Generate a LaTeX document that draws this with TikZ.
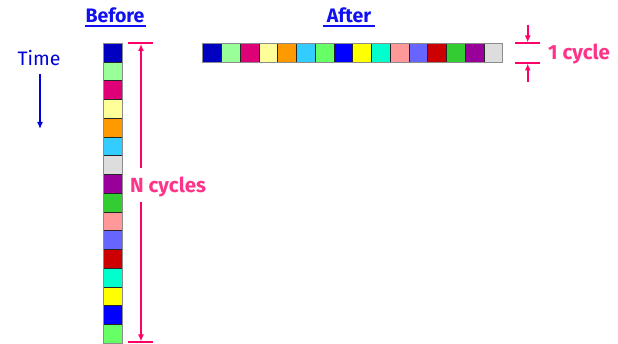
\documentclass[tikz,border=0pt]{standalone}
\usepackage{fontspec}
\setmainfont{Fira Sans}
\usetikzlibrary{arrows.meta}
\definecolor{cDkBlue}{HTML}{0000C0}
\definecolor{cLtGreen}{HTML}{99FF99}
\definecolor{cMagenta}{HTML}{DD0077}
\definecolor{cLtYellow}{HTML}{FFFF99}
\definecolor{cOrange}{HTML}{FF9900}
\definecolor{cSky}{HTML}{33CCFF}
\definecolor{cGray}{HTML}{DDDDDD}
\definecolor{cPurple}{HTML}{990099}
\definecolor{cGreen}{HTML}{33CC33}
\definecolor{cSalmon}{HTML}{FF9999}
\definecolor{cPeri}{HTML}{6666FF}
\definecolor{cDkRed}{HTML}{CC0000}
\definecolor{cTurq}{HTML}{00FFCC}
\definecolor{cYellow}{HTML}{FFFF00}
\definecolor{cBlue}{HTML}{0000FF}
\definecolor{cBrGreen}{HTML}{66FF66}
\definecolor{pinkline}{HTML}{FF0066}
\definecolor{pinktext}{HTML}{FF3388}
\definecolor{titleblue}{HTML}{1010F0}
\tikzset{
  cell/.style={draw=black!85, line width=0.9pt, minimum width=18.75pt, minimum height=18.75pt, inner sep=0pt, outer sep=0pt, anchor=north west},
  title/.style={text=titleblue, font=\fontsize{19.5}{22}\selectfont\bfseries, anchor=base, inner sep=0pt},
  titleline/.style={titleblue, line width=1.8pt},
  pinklabel/.style={text=pinktext, font=\fontsize{20.5}{23}\selectfont\bfseries, inner sep=0pt},
  measure/.style={pinkline, line width=1.8pt},
  measarrow/.style={pinkline, line width=1.6pt, -{Latex[length=7pt,width=6pt]}},
  timearrow/.style={blue!85!black, line width=1.6pt, -{Latex[length=7pt,width=6pt]}}
}
\begin{document}
\begin{tikzpicture}[x=1pt,y=-1pt]
  \useasboundingbox (0,0) rectangle (618,344);
  % headings
  \node[title] (before) at (115,23) {Before};
  \draw[titleline] (85,26) -- (146,26);
  \node[title] (after) at (349,23) {After};
  \draw[titleline] (323,26) -- (375,26);
  % time direction
  \node[text=blue!85!black, font=\fontsize{19.5}{22}\selectfont, anchor=base, inner sep=0pt] (time) at (39,66) {Time};
  \coordinate (t1) at (40,74);
  \coordinate (t2) at (40,129);
  \draw[timearrow] (t1) -- (t2);
  % vertical column of cycles
  \foreach \c [count=\i from 0] in {cDkBlue,cLtGreen,cMagenta,cLtYellow,cOrange,cSky,cGray,cPurple,cGreen,cSalmon,cPeri,cDkRed,cTurq,cYellow,cBlue,cBrGreen}
    \node[cell, fill=\c] (v\i) at (103.3, 43.3+18.75*\i) {};
  \draw[black!45, line width=0.8pt] (v0.north west) rectangle (v15.south east);
  % horizontal row of cycles
  \foreach \c [count=\i from 0] in {cDkBlue,cLtGreen,cMagenta,cLtYellow,cOrange,cSky,cBrGreen,cBlue,cYellow,cTurq,cSalmon,cPeri,cDkRed,cGreen,cPurple,cGray}
    \node[cell, fill=\c] (h\i) at (202.7+18.75*\i, 43.3) {};
  \draw[black!45, line width=0.8pt] (h0.north west) rectangle (h15.south east);
  % N cycles dimension
  \coordinate (nl1) at (128,43.3);
  \coordinate (nr1) at (153,43.3);
  \coordinate (nl2) at (128,342.3);
  \coordinate (nr2) at (153,342.3);
  \draw[measure] (nl1) -- (nr1);
  \draw[measure] (nl2) -- (nr2);
  \node[pinklabel, anchor=base west] (ncyc) at (130,193) {N cycles};
  \coordinate (na) at (141,168);
  \coordinate (nb) at (141,202);
  \coordinate (ntop) at (141,44);
  \coordinate (nbot) at (141,341.5);
  \draw[measarrow] (na) -- (ntop);
  \draw[measarrow] (nb) -- (nbot);
  % 1 cycle dimension
  \coordinate (cl1) at (515,43.3);
  \coordinate (cr1) at (540,43.3);
  \coordinate (cl2) at (515,62.7);
  \coordinate (cr2) at (540,62.7);
  \draw[measure] (cl1) -- (cr1);
  \draw[measure] (cl2) -- (cr2);
  \coordinate (ca) at (527.7,25);
  \coordinate (cat) at (527.7,42.5);
  \coordinate (cb) at (527.7,82);
  \coordinate (cbt) at (527.7,63.5);
  \draw[measarrow] (ca) -- (cat);
  \draw[measarrow] (cb) -- (cbt);
  \node[pinklabel, anchor=base west] (onecyc) at (548,59.5) {1 cycle};
\end{tikzpicture}
\end{document}
